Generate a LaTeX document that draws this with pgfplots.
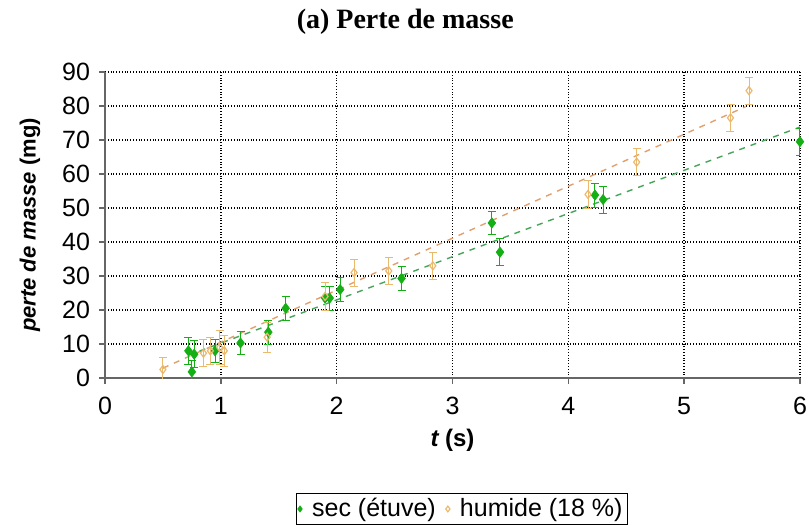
\documentclass[border=0pt]{standalone}
\usepackage{fontspec}
\setmainfont{Liberation Sans}
\newfontfamily\titlefont{Liberation Serif}
\usepackage{pgfplots}
\pgfplotsset{compat=1.18}

\definecolor{secgreen}{RGB}{20,175,20}
\definecolor{humorange}{RGB}{235,185,110}
\definecolor{secline}{RGB}{70,165,90}
\definecolor{humline}{RGB}{225,160,110}

\begin{document}
\begin{tikzpicture}
% page = 809x525 px at 0.5pt per px; axis box at (105..800, 72..378) px
\useasboundingbox (-52.5pt,-73.5pt) rectangle (352pt,189pt);
\begin{axis}[
    at={(0pt,0pt)}, anchor=south west,
    scale only axis,
    width=347.5pt, height=153pt,
    xmin=0, xmax=6, ymin=0, ymax=90,
    xtick={0,1,...,6}, ytick={0,10,...,90},
    axis lines=left,
    axis line style={-, gray!80!black, line width=0.9pt},
    every outer x axis line/.append style={-},
    every outer y axis line/.append style={-},
    grid=major,
    major grid style={black, densely dotted, line width=0.7pt},
    tick style={gray!80!black, line width=0.7pt},
    tick align=outside,
    major tick length=3pt,
    ticklabel style={font=\fontsize{12.5}{14}\selectfont},
    /pgf/number format/assume math mode=true,
    xticklabel style={yshift=-3pt},
    yticklabel style={xshift=-1pt},
    title={\titlefont\bfseries (a) Perte de masse},
    title style={at={(axis description cs:0.432,1)}, anchor=base, yshift=16pt,
        font=\fontsize{14}{16}\selectfont},
    xlabel={\bfseries\itshape t \upshape (s)},
    xlabel style={font=\fontsize{12}{14}\selectfont, at={(axis description cs:0.5,-0.203)}, anchor=center},
    ylabel={\bfseries\itshape perte de masse \upshape(mg)},
    ylabel style={font=\fontsize{11}{13}\selectfont, at={(axis description cs:-0.108,0.5)}, anchor=center},
    legend columns=2,
    legend style={at={(axis description cs:0.514,-0.375)}, anchor=north,
        draw=black, line width=0.5pt, font=\fontsize{12.5}{13.5}\selectfont,
        inner sep=0.5pt, column sep=3pt},
    legend image post style={mark size=1.4pt},
    legend cell align=left,
]
% trend lines
\addplot[forget plot, humline, dashed, line width=0.7pt] coordinates {(0.5,2.9) (5.53,79.8)};
\addplot[forget plot, secline, dashed, line width=0.7pt] coordinates {(0.72,6.7) (6.0,73.8)};

% sec (etuve)
\addplot[only marks, mark=diamond*, mark size=2.5pt, secgreen,
    error bars/.cd, y dir=both, y explicit,
    error bar style={secgreen, line width=0.5pt},
    error mark options={rotate=90, mark size=2pt, secgreen}]
coordinates {
    (0.72,8.0) +- (0,4)
    (0.75,1.8) +- (0,3.5)
    (0.77,7.0) +- (0,4)
    (0.95,8.0) +- (0,3.5)
    (1.17,10.3) +- (0,3.5)
    (1.41,13.5) +- (0,3.5)
    (1.56,20.5) +- (0,3.5)
    (1.90,23.5) +- (0,3.5)
    (1.94,23.5) +- (0,3.5)
    (2.03,26.0) +- (0,3.5)
    (2.56,29.3) +- (0,3.5)
    (3.34,45.6) +- (0,3.5)
    (3.41,37.0) +- (0,4)
    (4.23,53.8) +- (0,3.5)
    (4.30,52.5) +- (0,4)
    (6.00,69.5) +- (0,4)
};
\addlegendentry{sec (étuve)}

% humide (18 %)
\addplot[only marks, mark=diamond, mark size=2pt, humorange, line width=0.6pt,
    error bars/.cd, y dir=both, y explicit,
    error bar style={humorange, line width=0.5pt},
    error mark options={rotate=90, mark size=2pt, humorange}]
coordinates {
    (0.50,2.5) +- (0,3.5)
    (0.85,7.3) +- (0,4)
    (0.91,8.0) +- (0,4)
    (0.99,9.0) +- (0,5)
    (1.03,8.0) +- (0,4.5)
    (1.40,12.0) +- (0,4.5)
    (1.90,24.0) +- (0,4)
    (2.15,31.0) +- (0,4)
    (2.45,31.5) +- (0,4)
    (2.83,33.0) +- (0,4)
    (4.17,54.0) +- (0,4)
    (4.59,63.5) +- (0,4)
    (5.40,76.5) +- (0,4)
    (5.56,84.5) +- (0,4)
};
\addlegendentry{humide (18 \%)}
\end{axis}
\end{tikzpicture}
\end{document}
